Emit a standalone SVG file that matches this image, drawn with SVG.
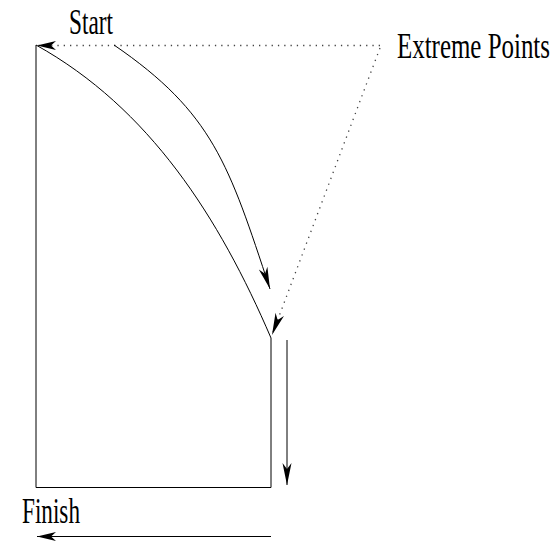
<svg xmlns="http://www.w3.org/2000/svg" width="557" height="542" viewBox="0 0 557 542">
<style>
.ln{fill:none;stroke:#000;stroke-width:1}
.dot{fill:none;stroke:#444;stroke-width:1.3;stroke-dasharray:1.3 5}
.lbl{font-family:"Liberation Serif","Times New Roman",serif;font-size:36px;fill:#000}
</style>
<defs>
<marker id="ah" markerUnits="userSpaceOnUse" viewBox="-24 -6 26 12" markerWidth="26" markerHeight="12" refX="0" refY="0" orient="auto">
<path d="M0,0 L-22,-4.5 L-16,0 L-22,4.5 Z" fill="#000"/>
</marker>
<marker id="ahs" markerUnits="userSpaceOnUse" viewBox="-24 -6 26 12" markerWidth="26" markerHeight="12" refX="0" refY="0" orient="auto">
<path d="M0,0 L-19,-4.5 L-14,0 L-19,4.5 Z" fill="#000"/>
</marker>
</defs>
<g id="shape">
<path class="ln" d="M36,45 L36,487.5 L271,487.5 L271,338"/>
<path class="ln" d="M36,45 C149.6,108.2 219.2,217.4 271,338"/>
</g>
<g id="connectors">
<path class="dot" d="M380,45.5 L37,45.5" marker-end="url(#ahs)"/>
<path class="dot" d="M380,48 L272,335" marker-end="url(#ah)"/>
<path class="ln" d="M114,45 C213,112.8 228.9,164.6 270,289" marker-end="url(#ah)"/>
<path class="ln" d="M287,340 L287,485" marker-end="url(#ah)"/>
<path class="ln" d="M271,536.5 L37,536.5" marker-end="url(#ahs)"/>
</g>
<g id="labels">
<text id="start" class="lbl" transform="translate(69,34) scale(0.65,1)" x="0" y="0" textLength="67.7" lengthAdjust="spacingAndGlyphs">Start</text>
<text id="extreme" class="lbl" transform="translate(397,58) scale(0.69,1)" x="0" y="0" textLength="221.7" lengthAdjust="spacingAndGlyphs">Extreme Points</text>
<text id="finish" class="lbl" transform="translate(22,523) scale(0.65,1)" x="0" y="0" textLength="89.2" lengthAdjust="spacingAndGlyphs">Finish</text>
</g>
</svg>
